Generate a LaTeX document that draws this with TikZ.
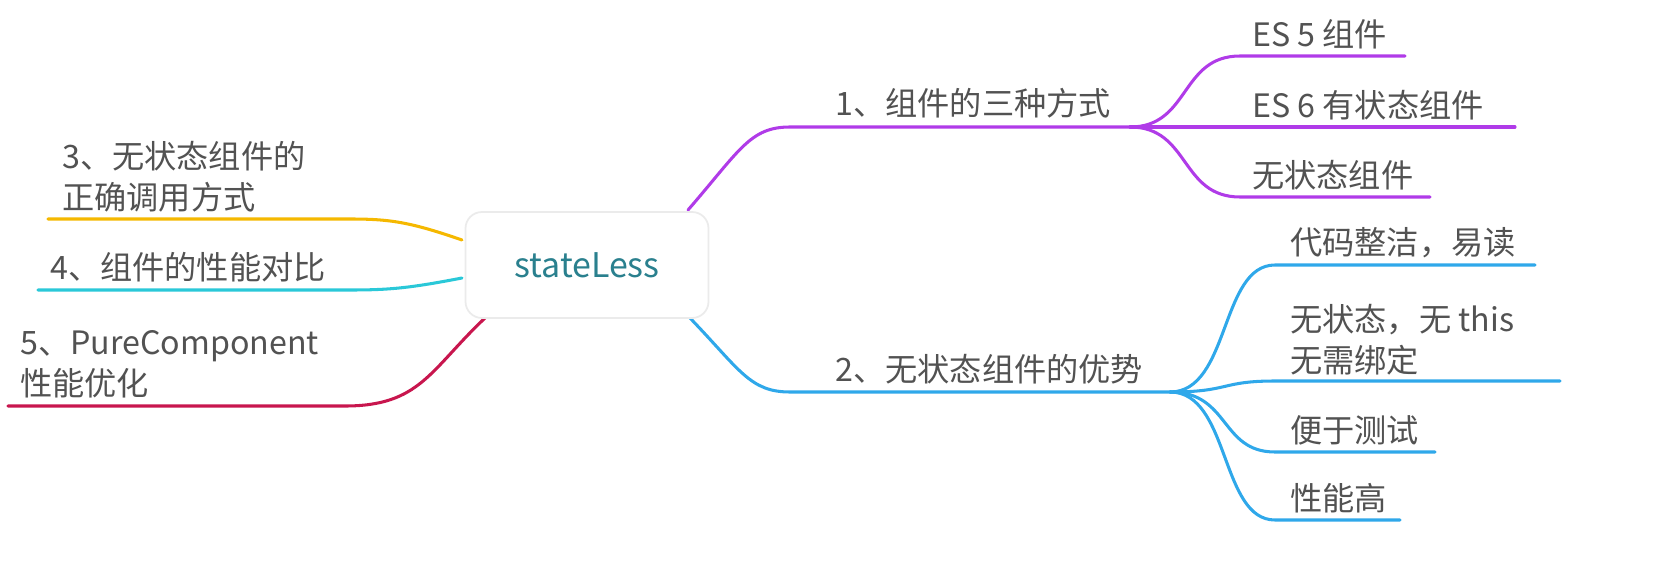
\documentclass[tikz,border=0pt]{standalone}
\usepackage{fontspec}
\setmainfont{Noto Sans CJK SC}
\begin{document}
\begin{tikzpicture}[x=0.03cm,y=-0.03cm,
  lbl/.style={text=black!68,font=\fontsize{27.5}{35}\selectfont,anchor=south west,inner sep=0pt,align=left},
  br/.style={line width=2.6pt,line cap=round}]
\definecolor{pur}{HTML}{B03BE8}\definecolor{blu}{HTML}{2FA8EA}
\definecolor{yel}{HTML}{F5B800}\definecolor{cya}{HTML}{2AC8D8}\definecolor{cri}{HTML}{C8164E}
\useasboundingbox (0,0) rectangle (1676,566);
% branch 1
\coordinate (c1) at (688,210); \coordinate (b1s) at (790,127); \coordinate (b1e) at (1130,127);
\draw[br,pur] (c1) .. controls (740,150) and (750,127) .. (b1s) -- (b1e);
\node[lbl] (t1) at (835,118) {1、组件的三种方式};
\foreach \n/\y/\xe/\t in {a/56/1405/ES 5 组件, b/127/1515/ES 6 有状态组件, c/197/1430/无状态组件}{
  \coordinate (s\n) at (1240,\y); \coordinate (e\n) at (\xe,\y);
  \draw[br,pur] (b1e) .. controls (1190,127) and (1180,\y) .. (s\n) -- (e\n);
  \node[lbl] (l\n) at (1252,\y-7) {\t};
}
% branch 2
\coordinate (c2) at (690,318); \coordinate (b2s) at (790,392); \coordinate (b2e) at (1170,392);
\draw[br,blu] (c2) .. controls (740,370) and (750,392) .. (b2s) -- (b2e);
\node[lbl] (t2) at (835,384) {2、无状态组件的优势};
\foreach \n/\y/\xe in {d/265/1535, e/381/1560, f/452/1435, g/520/1400}{
  \coordinate (s\n) at (1275,\y); \coordinate (e\n) at (\xe,\y);
  \draw[br,blu] (b2e) .. controls (1230,392) and (1220,\y) .. (s\n) -- (e\n);
}
\node[lbl] (ld) at (1290,258) {代码整洁，易读};
\node[lbl] (le) at (1290,375) {无状态，无 this\\无需绑定};
\node[lbl] (lf) at (1290,445) {便于测试};
\node[lbl] (lg) at (1290,513) {性能高};
% left
\coordinate (c3) at (462,240); \coordinate (y1) at (350,219); \coordinate (y2) at (48,219);
\draw[br,yel] (c3) .. controls (410,222) and (390,219) .. (y1) -- (y2);
\node[lbl] (l3) at (62,212) {3、无状态组件的\\正确调用方式};
\coordinate (c4) at (462,278); \coordinate (q1) at (350,290); \coordinate (q2) at (38,290);
\draw[br,cya] (c4) .. controls (410,288) and (390,290) .. (q1) -- (q2);
\node[lbl] (l4) at (50,282) {4、组件的性能对比};
\coordinate (c5) at (485,318); \coordinate (r1) at (345,406); \coordinate (r2) at (8,406);
\draw[br,cri] (c5) .. controls (430,370) and (420,406) .. (r1) -- (r2);
\node[lbl] (l5) at (20,398) {5、PureComponent\\性能优化};
% center
\node[draw=black!8,line width=1.5pt,fill=white,rounded corners=14pt,minimum width=243*0.03cm,minimum height=106*0.03cm,
  text={rgb,255:red,42;green,128;blue,142},font=\fontsize{29}{34}\selectfont] (center) at (587,265) {stateLess};
\end{tikzpicture}
\end{document}
